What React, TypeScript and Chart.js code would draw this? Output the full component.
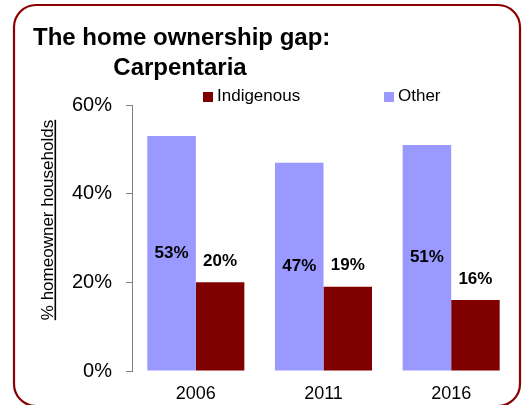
import React, { useEffect, useRef } from "react";
import { Chart, registerables } from "chart.js";

Chart.register(...registerables);

const categories = ["2006", "2011", "2016"];
const otherValues = [53, 47, 51];
const indigenousValues = [20, 19, 16];
const yTickValues = [0, 20, 40, 60];
const titleLines = ["The home ownership gap:", "Carpentaria"];
const yAxisTitle = "% homeowner households";

const FONT = '"Liberation Sans", Arial, Helvetica, sans-serif';
const OTHER_COLOR = "#9999FF";
const INDIG_COLOR = "#800000";
const BORDER_COLOR = "#8B0000";

const framePlugin = {
  id: "frame",
  beforeDraw(chart: any) {
    const ctx = chart.ctx;
    ctx.save();
    ctx.fillStyle = "#ffffff";
    ctx.fillRect(0, 0, chart.width, chart.height);
    const x = 14, y = 5, w = 506, h = 401, r = 22;
    ctx.beginPath();
    ctx.moveTo(x + r, y);
    ctx.lineTo(x + w - r, y);
    ctx.arcTo(x + w, y, x + w, y + r, r);
    ctx.lineTo(x + w, y + h - r);
    ctx.arcTo(x + w, y + h, x + w - r, y + h, r);
    ctx.lineTo(x + r, y + h);
    ctx.arcTo(x, y + h, x, y + h - r, r);
    ctx.lineTo(x, y + r);
    ctx.arcTo(x, y, x + r, y, r);
    ctx.closePath();
    ctx.strokeStyle = BORDER_COLOR;
    ctx.lineWidth = 2.2;
    ctx.stroke();
    ctx.restore();
  },
};

const decorPlugin = {
  id: "decor",
  afterDraw(chart: any) {
    const ctx = chart.ctx;
    ctx.save();
    // Title
    ctx.fillStyle = "#000";
    ctx.font = `bold 24px ${FONT}`;
    ctx.textBaseline = "alphabetic";
    ctx.textAlign = "left";
    ctx.fillText(titleLines[0], 33, 45);
    ctx.textAlign = "center";
    ctx.fillText(titleLines[1], 180, 75);

    // Legend (Indigenous first, then Other)
    const items = [...chart.data.datasets].reverse();
    const legendX = [203, 384];
    ctx.font = `17px ${FONT}`;
    ctx.textAlign = "left";
    ctx.textBaseline = "middle";
    items.forEach((ds: any, i: number) => {
      ctx.fillStyle = ds.backgroundColor;
      ctx.fillRect(legendX[i], 92, 10, 10);
      ctx.fillStyle = "#000";
      ctx.fillText(ds.label, legendX[i] + 14, 96);
    });

    // Y axis title (rotated, underlined)
    ctx.save();
    ctx.translate(53, 220);
    ctx.rotate(-Math.PI / 2);
    ctx.font = `17px ${FONT}`;
    ctx.textAlign = "center";
    ctx.textBaseline = "alphabetic";
    ctx.fillStyle = "#000";
    ctx.fillText(yAxisTitle, 0, 0);
    const tw = ctx.measureText(yAxisTitle).width;
    ctx.fillRect(-tw / 2, 1.5, tw, 1.6);
    ctx.restore();

    ctx.restore();
  },
  afterDatasetsDraw(chart: any) {
    const ctx = chart.ctx;
    ctx.save();
    ctx.font = `bold 17px ${FONT}`;
    ctx.fillStyle = "#000";
    ctx.textAlign = "center";
    ctx.textBaseline = "middle";
    chart.data.datasets.forEach((ds: any, di: number) => {
      const meta = chart.getDatasetMeta(di);
      meta.data.forEach((bar: any, i: number) => {
        const p = bar.getProps(["x", "y", "base"], true);
        const text = `${ds.data[i]}%`;
        const ty = di === 0 ? (p.y + p.base) / 2 : p.y - 21;
        ctx.fillText(text, p.x, ty);
      });
    });
    ctx.restore();
  },
};

export default function App() {
  const ref = useRef<HTMLCanvasElement | null>(null);

  useEffect(() => {
    document.body.style.margin = "0";
    const canvas = ref.current;
    if (!canvas) return;
    const chart = new Chart(canvas, {
      type: "bar",
      data: {
        labels: categories,
        datasets: [
          { label: "Other", data: otherValues, backgroundColor: OTHER_COLOR, borderWidth: 0 },
          { label: "Indigenous", data: indigenousValues, backgroundColor: INDIG_COLOR, borderWidth: 0 },
        ],
      },
      options: {
        responsive: false,
        animation: false,
        layout: { padding: { left: 0, right: 11, top: 105, bottom: 0 } },
        plugins: {
          legend: { display: false },
          title: { display: false },
          tooltip: { enabled: false },
        },
        datasets: {
          bar: { categoryPercentage: 0.76, barPercentage: 1 },
        },
        scales: {
          x: {
            grid: { display: false, drawTicks: false },
            border: { display: false },
            ticks: {
              padding: 12,
              color: "#000",
              font: { family: FONT, size: 18 },
            },
            afterFit(scale: any) {
              scale.height = 34;
            },
          },
          y: {
            min: 0,
            max: 60,
            grid: {
              drawOnChartArea: false,
              drawTicks: true,
              tickLength: 6,
              color: "#808080",
            },
            border: { display: true, color: "#808080", width: 1 },
            ticks: {
              padding: 14,
              color: "#000",
              font: { family: FONT, size: 20 },
              callback: (v: any) => `${v}%`,
            },
            afterBuildTicks(scale: any) {
              scale.ticks = yTickValues.map((v) => ({ value: v }));
            },
            afterFit(scale: any) {
              scale.width = 132;
            },
          },
        },
      },
      plugins: [framePlugin, decorPlugin],
    });
    return () => chart.destroy();
  }, []);

  return (
    <div style={{ position: "absolute", left: 0, top: 0, width: 526, height: 405 }}>
      <canvas ref={ref} width={526} height={405} style={{ width: 526, height: 405 }} />
    </div>
  );
}
